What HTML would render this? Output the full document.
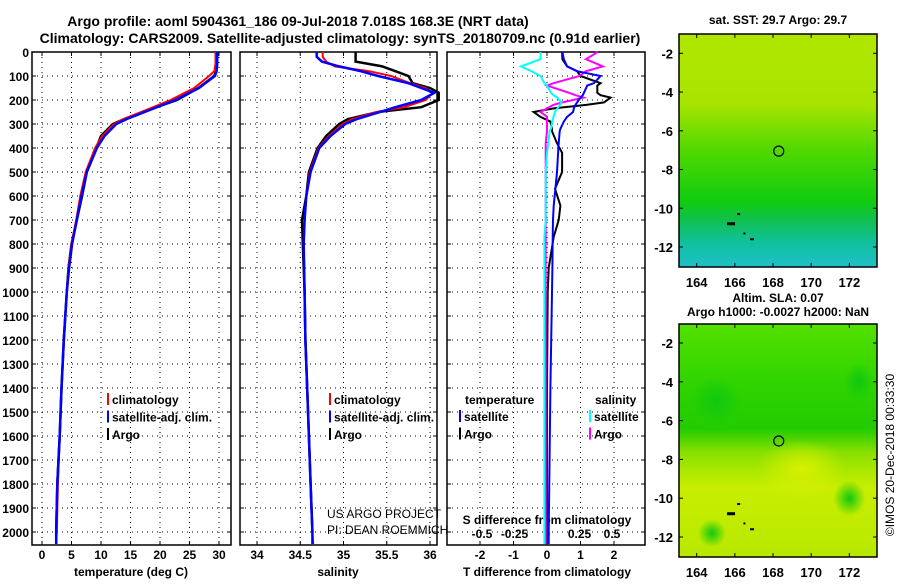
<!DOCTYPE html>
<html><head><meta charset="utf-8"><style>
body{margin:0;background:#fff;}
svg text{font-family:"Liberation Sans",sans-serif;font-weight:bold;fill:#000;}
</style></head><body>
<svg id="chart" width="900" height="580" viewBox="0 0 900 580" xmlns="http://www.w3.org/2000/svg">
<defs>
<linearGradient id="sstg" x1="0" y1="0" x2="0" y2="1">
<stop offset="0" stop-color="#b0e600"/><stop offset="0.3" stop-color="#a8e400"/><stop offset="0.5" stop-color="#50d800"/><stop offset="0.72" stop-color="#10cc10"/><stop offset="0.8" stop-color="#10c050"/><stop offset="0.9" stop-color="#10c0a0"/><stop offset="1" stop-color="#20c0c8"/>
</linearGradient>
<linearGradient id="slag" x1="0" y1="0" x2="0" y2="1">
<stop offset="0" stop-color="#55e000"/><stop offset="0.25" stop-color="#30d400"/><stop offset="0.45" stop-color="#22cc00"/><stop offset="0.55" stop-color="#88e000"/><stop offset="0.7" stop-color="#c8ee00"/><stop offset="1" stop-color="#b8e800"/>
</linearGradient>
<radialGradient id="blob1"><stop offset="0" stop-color="#10c810"/><stop offset="1" stop-color="#10c810" stop-opacity="0"/></radialGradient>
<radialGradient id="blob2"><stop offset="0" stop-color="#d8f000"/><stop offset="1" stop-color="#d8f000" stop-opacity="0"/></radialGradient>
</defs>
<g id="root"></g>
</svg>
<script>
// ---------- data ----------
const tempDepth = [0,50,80,100,150,200,250,280,300,350,400,500,600,700,800,900,1000,1200,1400,1600,1800,2000,2050];
const tempClim  = [29.4,29.4,29.2,28.3,25.8,21.8,16.8,13.8,12.2,10.2,9.0,7.4,6.5,5.8,5.0,4.5,4.2,3.7,3.3,3.0,2.7,2.5,2.4];
const tempSat   = [29.7,29.7,29.6,29.3,26.6,22.6,17.4,14.3,12.6,10.6,9.3,7.6,6.7,5.9,5.1,4.6,4.2,3.7,3.3,3.0,2.6,2.4,2.4];
const tempArgo  = [29.6,29.6,29.5,29.2,26.5,22.9,17.0,13.9,12.0,10.0,9.2,7.6,6.8,5.9,5.0,4.5,4.2,3.7,3.3,3.0,2.6,2.4];
const salDepth  = [0,20,40,60,80,100,130,150,170,200,230,250,280,300,350,400,500,600,700,800,1000,1200,1400,1600,1800,2000,2050];
const salClim   = [34.76,34.76,34.8,34.9,35.3,35.55,35.77,35.95,36.03,35.95,35.7,35.38,35.1,34.99,34.83,34.71,34.61,34.57,34.55,34.54,34.55,34.56,34.58,34.6,34.62,34.64,34.65];
const salSat    = [34.69,34.69,34.75,34.95,35.2,35.4,35.75,35.9,36.05,35.9,35.6,35.42,35.15,35.02,34.85,34.72,34.62,34.57,34.55,34.54,34.55,34.56,34.58,34.6,34.62,34.64,34.64];
const salArgo   = [35.14,35.14,35.14,35.45,35.6,35.75,35.8,36.0,36.1,36.1,35.9,35.4,35.05,34.95,34.8,34.7,34.6,34.57,34.52,34.53,34.55,34.56,34.58,34.6,34.62,34.64];
const dDepth    = [0,30,60,80,100,130,140,170,180,190,210,220,235,250,270,290,320,330,380,420,500,570,640,700,770,900,1000,1400,2000,2050];
const dTSat     = [0.46,0.5,0.6,0.9,1.6,1.4,1.2,1.1,1.07,1.0,0.9,0.85,0.8,0.78,0.6,0.5,0.4,0.38,0.35,0.33,0.3,0.25,0.2,0.18,0.17,0.16,0.15,0.1,0.05,0.05];
const dTArgo    = [0.45,0.46,0.6,0.9,1.0,1.6,1.5,1.5,1.6,1.9,1.7,1.2,0.2,-0.4,-0.2,0.1,0.15,0.15,0.3,0.45,0.45,0.24,0.4,0.35,0.2,0.05,0.02,0.0,0.0,0.0];
const dSSat     = [-0.05,-0.05,-0.2,-0.12,-0.05,-0.02,0,0.03,0.05,0.08,0.11,0.1,0.08,0.06,0.05,0.04,0.03,0.02,0.01,0.0,-0.01,-0.01,-0.01,-0.01,-0.02,-0.02,-0.02,-0.02,-0.02,-0.02];
const dSArgo    = [0.39,0.3,0.43,0.3,0.25,0.05,0.0,0.17,0.22,0.28,0.12,0.05,0.0,-0.05,0.0,0.0,0.0,0.0,-0.01,-0.01,-0.01,-0.01,-0.01,-0.01,-0.01,-0.01,-0.01,-0.01,-0.01,-0.01];
const depthTicks = [0,100,200,300,400,500,600,700,800,900,1000,1100,1200,1300,1400,1500,1600,1700,1800,1900,2000];
const tempTicks = [0,5,10,15,20,25,30];
const salTicks = [34,34.5,35,35.5,36];
const salTickLabels = ["34","34.5","35","35.5","36"];
const dTTicks = [-2,-1,0,1,2];
const dSTicks = [-0.5,-0.25,0,0.25,0.5];
const dSTickLabels = ["-0.5","-0.25","0","0.25","0.5"];
const lonTicks = [164,166,168,170,172];
const latTicks = [-2,-4,-6,-8,-10,-12];
const argoLon = [168.3];
const argoLat = [-7.05];

// ---------- helpers ----------
const NS="http://www.w3.org/2000/svg";
const root=document.getElementById('root');
function mk(tag,attrs,parent){const e=document.createElementNS(NS,tag);for(const k in attrs)e.setAttribute(k,attrs[k]);(parent||root).appendChild(e);return e;}
function txt(x,y,s,size,anchor,parent){const t=mk('text',{x:x,y:y,'font-size':size,'text-anchor':anchor||'middle'},parent);t.textContent=s;return t;}
const y0=52, pxPerM=0.24, yBot=545, yTop=52;
const yD=d=>y0+d*pxPerM;
const xT=v=>42+v*5.9;
const xS=v=>257+(v-34)*86.5;
const xDT=v=>547+v*33.5;
const xDS=v=>547+v*130;

function panelFrame(l,r,vx,name){
  const g=mk('g',{});
  
  
  depthTicks.forEach(d=>{mk('line',{x1:l,x2:r,y1:yD(d),y2:yD(d),stroke:'#000','stroke-width':1,'stroke-dasharray':'1,4'},g);
    mk('line',{x1:l,x2:l+4,y1:yD(d),y2:yD(d),stroke:'#000'},g);mk('line',{x1:r-4,x2:r,y1:yD(d),y2:yD(d),stroke:'#000'},g);});
  vx.forEach(x=>{mk('line',{x1:x,x2:x,y1:yTop,y2:yBot,stroke:'#000','stroke-dasharray':'1,4'},g);
    mk('line',{x1:x,x2:x,y1:yBot-4,y2:yBot,stroke:'#000'},g);mk('line',{x1:x,x2:x,y1:yTop,y2:yTop+4,stroke:'#000'},g);});
  mk('rect',{x:l,y:yTop,width:r-l,height:yBot-yTop,fill:'none',stroke:'#000','stroke-width':1.5},g);
  return g;
}
function series(xf,xs,ds,color,name,w){
  let p='';for(let i=0;i<xs.length;i++){p+=(i?'L':'M')+xf(xs[i]).toFixed(1)+','+yD(ds[i]).toFixed(1);}
  const e=mk('path',{d:p,fill:'none',stroke:color,'stroke-width':w||2});
  
  
}

// titles
let t=txt(298,26,'Argo profile: aoml 5904361_186 09-Jul-2018 7.018S 168.3E (NRT data)',14);


t=txt(340,43,'Climatology: CARS2009. Satellite-adjusted climatology: synTS_20180709.nc (0.91d earlier)',14);



depthTicks.forEach(d=>{const e=txt(29,yD(d)+5,String(d),12,'end');
  
  });

// panel 1
panelFrame(32,231,tempTicks.map(xT),'temperature-panel');
tempTicks.forEach(v=>{const e=txt(xT(v),559,String(v),12);
  
  });
t=txt(131,576,'temperature (deg C)',12);


series(xT,tempArgo,tempDepth,'#000','temp-argo-line',2.5);
series(xT,tempClim,tempDepth,'#f00','temp-clim-line',2);
series(xT,tempSat,tempDepth,'#00f','temp-sat-line',2.5);

// panel 2
panelFrame(240,437,salTicks.map(xS),'salinity-panel');
salTicks.forEach((v,i)=>{const e=txt(xS(v),559,salTickLabels[i],12);
  
  });
t=txt(338,576,'salinity',12);


series(xS,salArgo,salDepth,'#000','sal-argo-line',2.5);
series(xS,salClim,salDepth,'#f00','sal-clim-line',2);
series(xS,salSat,salDepth,'#00f','sal-sat-line',2.5);

// panel 3
panelFrame(447,645,dTTicks.map(xDT),'difference-panel');
dTTicks.forEach(v=>{const e=txt(xDT(v),559,String(v),12);
  
  });
dSTicks.forEach((v,i)=>{const e=txt(xDS(v),538,dSTickLabels[i],12);
  
  });
t=txt(547,524,'S difference from climatology',12);


t=txt(547,576,'T difference from climatology',12);


series(xDT,dTArgo,dDepth,'#000','dt-argo-line',2);
series(xDS,dSArgo,dDepth,'#f0f','ds-argo-line',2);
series(xDT,dTSat,dDepth,'#00f','dt-sat-line',2);
series(xDS,dSSat,dDepth,'#0ff','ds-sat-line',2);

function legend(x,y,items,name){
  const g=mk('g',{});
  
  
  items.forEach((it,i)=>{const yy=y+i*17.5;
    if(it[1])mk('rect',{x:x,y:yy-9,width:2,height:12,fill:it[1]},g);
    txt(x+(it[1]?5:0),yy+2,it[0],12,'start',g);});
}
legend(107,402,[['climatology','#f00'],['satellite-adj. clim.','#00f'],['Argo','#000']],'temp-legend');
legend(329,402,[['climatology','#f00'],['satellite-adj. clim.','#00f'],['Argo','#000']],'sal-legend');
legend(465,402,[['temperature',null]],'dt-legend-title');
legend(459,419,[['satellite','#00f'],['Argo','#000']],'dt-legend');
legend(595,402,[['salinity',null]],'ds-legend-title');
legend(589,419,[['satellite','#0ff'],['Argo','#f0f']],'ds-legend');
const c1=txt(327,518,'US ARGO PROJECT',12,'start');c1.style.fontWeight='normal';


const c2=txt(327,534,'PI: DEAN ROEMMICH',12,'start');c2.style.fontWeight='normal';



// maps
function map(top,bot,lat2y,grad,title1,title2,name,blobs){
  const g=mk('g',{});
  
  
  const L=679,R=877;
  const xL=lon=>696.7+(lon-164)*19.08;
  mk('rect',{x:L,y:top,width:R-L,height:bot-top,fill:'url(#'+grad+')'},g);
  blobs.forEach(b=>mk('ellipse',{cx:xL(b[0]),cy:lat2y(b[1]),rx:b[2],ry:b[3],fill:'url(#'+b[4]+')'},g));
  mk('rect',{x:L,y:top,width:R-L,height:bot-top,fill:'none',stroke:'#000','stroke-width':1.5},g);
  lonTicks.forEach(v=>{mk('line',{x1:xL(v),x2:xL(v),y1:bot-4,y2:bot,stroke:'#000'},g);mk('line',{x1:xL(v),x2:xL(v),y1:top,y2:top+4,stroke:'#000'},g);
    txt(xL(v),bot+20,String(v),13,'middle',g);});
  latTicks.forEach(v=>{mk('line',{x1:L,x2:L+4,y1:lat2y(v),y2:lat2y(v),stroke:'#000'},g);mk('line',{x1:R-4,x2:R,y1:lat2y(v),y2:lat2y(v),stroke:'#000'},g);
    txt(L-6,lat2y(v)+5,String(v),13,'end',g);});
  if(title1)txt(778,top-(title2?22:10),title1,12,'middle',g);
  if(title2)txt(778,top-8,title2,12,'middle',g);
  argoLon.forEach((lo,i)=>{const m=mk('circle',{cx:xL(lo),cy:lat2y(argoLat[i]),r:5,fill:'none',stroke:'#000','stroke-width':1.2},g);
    
    });
  [[165.8,-10.8,8,3],[166.2,-10.3,3,2],[166.9,-11.6,4,2],[166.5,-11.3,2,2]].forEach(s=>mk('rect',{x:xL(s[0])-s[2]/2,y:lat2y(s[1])-s[3]/2,width:s[2],height:s[3],fill:'#000'},g));
}
map(34,267,v=>53.3+(-2-v)*19.37,'sstg','sat. SST: 29.7 Argo: 29.7',null,'sst-map',[]);
map(324,557,v=>343+(-2-v)*19.4,'slag','Altim. SLA: 0.07','Argo h1000: -0.0027 h2000: NaN','sla-map',
  [[169.5,-8.5,45,30,'blob2'],[164.8,-11.8,14,14,'blob1'],[172,-10,16,18,'blob1'],[165,-5,25,25,'blob1'],[172.5,-4,15,20,'blob1']]);
const ts=mk('text',{x:0,y:0,'font-size':12,'text-anchor':'middle',transform:'translate(894,455) rotate(-90)'});
ts.textContent='©IMOS 20-Dec-2018 00:33:30';
ts.style.fontWeight='normal';


</script>
</body></html>
